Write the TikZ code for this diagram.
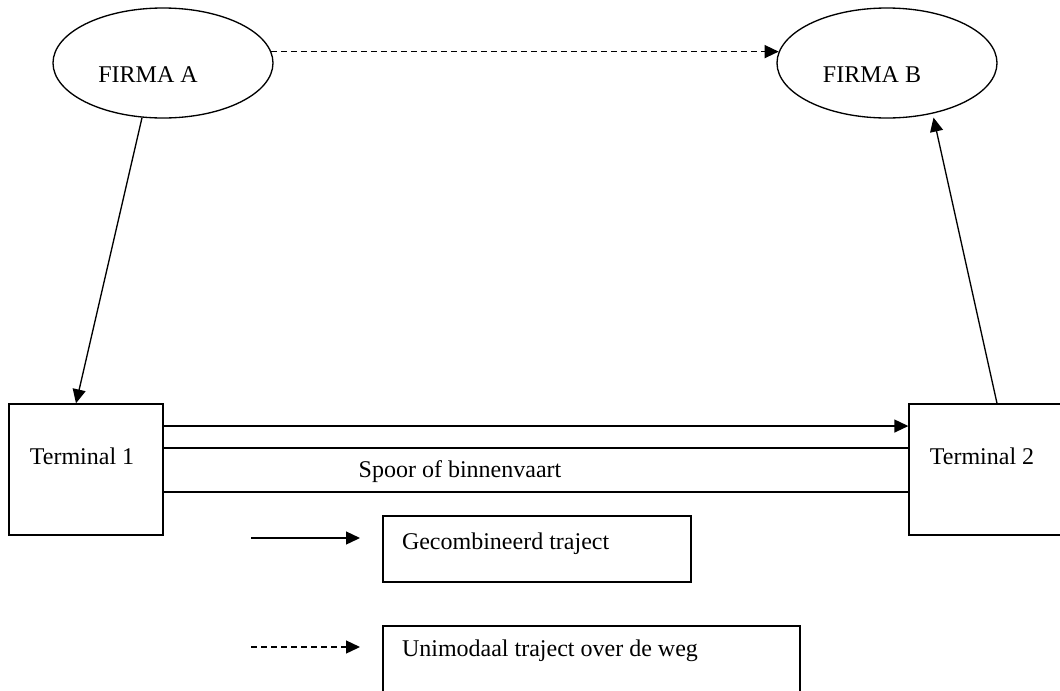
\documentclass[tikz,border=0pt]{standalone}
\usepackage{fontspec}
\setmainfont{Liberation Serif}
\usetikzlibrary{arrows.meta,shapes.geometric}

\begin{document}
\begin{tikzpicture}[x=0.75pt,y=-0.75pt,line width=1pt,
  >={Triangle[length=10.5pt,width=9.75pt]},
  firma/.style={draw,ellipse,minimum width=165pt,minimum height=82.5pt,inner sep=0pt},
  terminal/.style={draw,rectangle,minimum width=115.5pt,minimum height=98.25pt,inner sep=0pt},
  legbox/.style={draw,rectangle,minimum height=49.5pt,inner sep=0pt},
  txt/.style={inner sep=0pt},
  road/.style={dash pattern=on 4.5pt off 3pt}]

  \fontsize{18}{21.6}\selectfont
  \useasboundingbox (0,0) rectangle (1060,690);

  \node[firma,label={[txt,xshift=-11.25pt,yshift=-9pt]center:FIRMA A}] (firmaA) at (163,63) {};
  \node[firma,label={[txt,xshift=-11.25pt,yshift=-9pt]center:FIRMA B}] (firmaB) at (887,63) {};

  \node[terminal,label={[txt,xshift=-3pt,yshift=10pt]center:Terminal 1}] (term1) at (86,469.5) {};
  \node[terminal,label={[txt,xshift=-3pt,yshift=10pt]center:Terminal 2}] (term2) at (986,469.5) {};

  \node[txt] (spoor) at (460,472) {Spoor of binnenvaart};

  % legend
  \node[legbox,minimum width=231pt,
    label={[txt,anchor=base west,xshift=14.25pt,yshift=-25.5pt]north west:Gecombineerd traject}] (legA) at (537,549) {};
  \node[legbox,minimum width=312.75pt,
    label={[txt,anchor=base west,xshift=14.25pt,yshift=-23.25pt]north west:Unimodaal traject over de weg}] (legB) at (591.5,659) {};
  \coordinate (solidS) at (251,538);
  \coordinate (solidE) at (360,538);
  \coordinate (dashS) at (251,647);
  \coordinate (dashE) at (360,647);

  \draw[->,road] (firmaA.6) -- (firmaB.174); %% A->B
  \draw[->] (firmaA.-111) -- ([xshift=-7.5pt]term1.north); %% A->T1
  \draw[->,shorten >=3pt] ([xshift=8.25pt]term2.north) -- (firmaB.-48); %% T2->B

  \draw[->] ([yshift=32.6pt]term1.east) -- ([yshift=32.6pt]term2.west); %% T1->T2
  \draw ([yshift=16.1pt]term1.east) -- ([yshift=16.1pt]term2.west);
  \draw ([yshift=-16.9pt]term1.east) -- ([yshift=-16.9pt]term2.west);

  \draw[->] (solidS) -- (solidE);
  \draw[->,road] (dashS) -- (dashE);
\end{tikzpicture}
\end{document}
